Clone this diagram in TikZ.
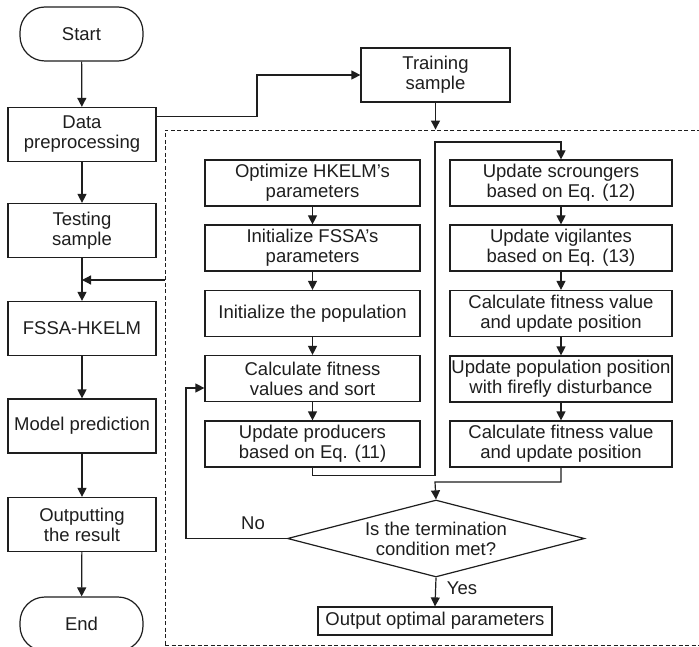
\documentclass[tikz,border=0pt]{standalone}
\usepackage{fontspec}
\setmainfont{Liberation Sans}
\usetikzlibrary{arrows.meta,shapes.geometric,shapes.misc}
\definecolor{ink}{HTML}{1E1E1E}
\begin{document}
\begin{tikzpicture}[x=1pt,y=-1pt,
  every node/.style={font=\fontsize{18.5}{20}\selectfont, text=ink},
  box/.style={draw=ink, line width=1.2pt, rectangle, align=center, inner sep=1pt},
  lbox/.style={box, minimum width=148pt, minimum height=54pt},
  c1/.style={box, minimum width=215pt, minimum height=46pt},
  c2/.style={box, minimum width=222pt, minimum height=46pt},
  term/.style={draw=ink, line width=1.2pt, rounded corners=25pt, minimum width=123pt, minimum height=54pt},
  arr/.style={draw=ink, line width=1.2pt, -{Triangle[length=9pt,width=9pt]}},
  lbl/.style={inner sep=0pt}
]
\useasboundingbox (0,0) rectangle (699,647);
\fill[white] (0,0) rectangle (699,647);
% dashed frame
\node[draw=ink, line width=0.9pt, dash pattern=on 4pt off 2.5pt, minimum width=537pt, minimum height=515pt, inner sep=0pt] (frame) at (433.5,387.5) {};
% left column
\node[term] (start) at (81.5,34) {Start};
\node[lbox] (data) at (82,134.5) {Data\\preprocessing};
\node[lbox] (test) at (82,230.5) {Testing\\sample};
\node[lbox] (fssa) at (82,328.5) {FSSA-HKELM};
\node[lbox] (model) at (82,426) {Model prediction};
\node[lbox] (outp) at (82,524.5) {Outputting\\the result};
\node[term] (end) at (81.5,624) {End};
% training
\node[box, minimum width=149pt, minimum height=54pt] (train) at (435.5,75) {Training\\sample};
% inner column 1
\node[c1] (a1) at (312.5,183) {Optimize HKELM's\\parameters};
\node[c1] (a2) at (312.5,248) {Initialize FSSA's\\parameters};
\node[c1] (a3) at (312.5,313.5) {Initialize the population};
\node[c1] (a4) at (312.5,378.5) {Calculate fitness\\values and sort};
\node[c1] (a5) at (312.5,444) {Update producers\\based on Eq. (11)};
% inner column 2
\node[c2] (b1) at (561,183) {Update scroungers\\based on Eq. (12)};
\node[c2] (b2) at (561,248) {Update vigilantes\\based on Eq. (13)};
\node[c2] (b3) at (561,313.5) {Calculate fitness value\\and update position};
\node[c2] (b4) at (561,379) {Update population position\\with firefly disturbance};
\node[c2] (b5) at (561,444) {Calculate fitness value\\and update position};
% decision
\node[draw=ink, line width=1.2pt, diamond, aspect=3.86, inner sep=-2pt, minimum width=297pt, minimum height=77pt, align=center] (dia) at (436,538.5) {Is the termination\\condition met?};
\node[box, minimum width=234pt, minimum height=28pt] (res) at (435,621) {Output optimal parameters};
% coordinates
\coordinate (j) at (82,280);
\coordinate (k1) at (257,75);
\coordinate (k2) at (435,142);
\coordinate (k3) at (435,482);
\coordinate (k4) at (186,388);
% connectors left
\draw[arr] (start) -- (data);
\draw[arr] (data) -- (test);
\draw[arr] (test) -- (fssa);
\draw[arr] (fssa) -- (model);
\draw[arr] (model) -- (outp);
\draw[arr] (outp) -- (end);
\draw[arr] (frame.west |- j) -- (j);
\draw[arr] ([yshift=-10pt]data.north east) -| (k1) -- (train.west);
\draw[arr] (train.south) -- (train.south |- frame.north);
% inner
\draw[arr] (a1) -- (a2);
\draw[arr] (a2) -- (a3);
\draw[arr] (a3) -- (a4);
\draw[arr] (a4) -- (a5);
\draw[arr] (a5.south) -- ++(0,8) -| (k2) -| (b1.north);
\draw[arr] (b1) -- (b2);
\draw[arr] (b2) -- (b3);
\draw[arr] (b3) -- (b4);
\draw[arr] (b4) -- (b5);
\draw[arr] (b5.south) |- (k3) -- (dia.north);
\draw[arr] (dia.west) -| (k4) -- (a4.west |- k4);
\draw[arr] (dia.south) -- (res.north);
\node[lbl] (no) at (253,523) {No};
\node[lbl] (yes) at (462,588) {Yes};
\end{tikzpicture}
\end{document}
